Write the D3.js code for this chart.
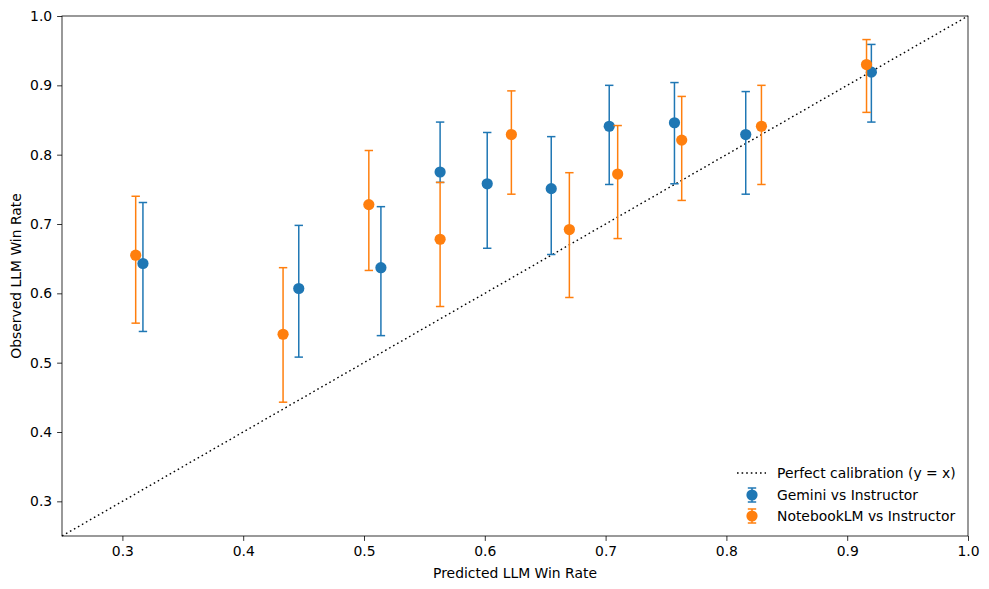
<!DOCTYPE html>
<html>
<head>
<meta charset="utf-8">
<script src="https://cdn.jsdelivr.net/npm/d3@7"></script>
<style>
  body { margin: 0; background: #fff; }
  svg text { font-family: "DejaVu Sans", sans-serif; }
</style>
</head>
<body>
<div id="chart"></div>
<script>
// Gemini vs Instructor: predicted win rate, observed win rate, CI low / high
const predGemini = [0.317, 0.446, 0.514, 0.563, 0.602, 0.655, 0.703, 0.757, 0.816, 0.920];
const obsGemini  = [0.643, 0.607, 0.637, 0.775, 0.758, 0.751, 0.841, 0.846, 0.829, 0.919];
const loGemini   = [0.545, 0.508, 0.539, 0.760, 0.665, 0.656, 0.757, 0.758, 0.743, 0.847];
const hiGemini   = [0.731, 0.698, 0.725, 0.847, 0.832, 0.826, 0.900, 0.904, 0.891, 0.959];

// NotebookLM vs Instructor
const predNotebook = [0.311, 0.433, 0.504, 0.563, 0.622, 0.670, 0.710, 0.763, 0.829, 0.916];
const obsNotebook  = [0.655, 0.541, 0.728, 0.678, 0.829, 0.692, 0.772, 0.821, 0.841, 0.930];
const loNotebook   = [0.557, 0.443, 0.633, 0.581, 0.743, 0.594, 0.679, 0.734, 0.757, 0.861];
const hiNotebook   = [0.740, 0.637, 0.806, 0.760, 0.892, 0.774, 0.842, 0.884, 0.900, 0.966];

const tickValues = [0.3, 0.4, 0.5, 0.6, 0.7, 0.8, 0.9, 1.0];
const axisDomain = [0.25, 1.0];

const seriesNames = ["Gemini vs Instructor", "NotebookLM vs Instructor"];
const diagLabel = "Perfect calibration (y = x)";

function test_chart() {
    const W = 989, H = 589;
    const margin = { top: 16, right: 21, bottom: 53, left: 62 };
    const width = W - margin.left - margin.right;
    const height = H - margin.top - margin.bottom;

    const svg = d3.select("#chart").append("svg")
        .attr("width", W)
        .attr("height", H);

    const g = svg.append("g")
        .attr("transform", "translate(" + margin.left + "," + margin.top + ")");

    const x = d3.scaleLinear().domain(axisDomain).range([0, width]);
    const y = d3.scaleLinear().domain(axisDomain).range([height, 0]);

    // diagonal y = x
    g.append("line")
        .attr("x1", x(axisDomain[0])).attr("y1", y(axisDomain[0]))
        .attr("x2", x(axisDomain[1])).attr("y2", y(axisDomain[1]))
        .attr("stroke", "#000")
        .attr("stroke-width", 1.4)
        .attr("stroke-dasharray", "1.6,3.0");

    const series = [
        { name: seriesNames[0], color: "#1f77b4", px: predGemini, py: obsGemini, lo: loGemini, hi: hiGemini },
        { name: seriesNames[1], color: "#ff7f0e", px: predNotebook, py: obsNotebook, lo: loNotebook, hi: hiNotebook }
    ];

    const cap = 4.2;
    series.forEach(s => {
        const pts = s.px.map((v, i) => ({ x: v, y: s.py[i], lo: s.lo[i], hi: s.hi[i] }));
        const sg = g.append("g");
        sg.selectAll("line.bar").data(pts).enter().append("line")
            .attr("x1", d => x(d.x)).attr("x2", d => x(d.x))
            .attr("y1", d => y(d.lo)).attr("y2", d => y(d.hi))
            .attr("stroke", s.color).attr("stroke-width", 1.5);
        sg.selectAll("line.caplo").data(pts).enter().append("line")
            .attr("x1", d => x(d.x) - cap).attr("x2", d => x(d.x) + cap)
            .attr("y1", d => y(d.lo)).attr("y2", d => y(d.lo))
            .attr("stroke", s.color).attr("stroke-width", 1.5);
        sg.selectAll("line.caphi").data(pts).enter().append("line")
            .attr("x1", d => x(d.x) - cap).attr("x2", d => x(d.x) + cap)
            .attr("y1", d => y(d.hi)).attr("y2", d => y(d.hi))
            .attr("stroke", s.color).attr("stroke-width", 1.5);
        sg.selectAll("circle").data(pts).enter().append("circle")
            .attr("cx", d => x(d.x)).attr("cy", d => y(d.y))
            .attr("r", 5.6)
            .attr("fill", s.color);
    });

    // axes
    const xAxis = g.append("g")
        .attr("transform", "translate(0," + height + ")")
        .call(d3.axisBottom(x).tickValues(tickValues).tickFormat(d3.format(".1f"))
            .tickSize(4.9).tickPadding(4.9).tickSizeOuter(0));
    const yAxis = g.append("g")
        .call(d3.axisLeft(y).tickValues(tickValues).tickFormat(d3.format(".1f"))
            .tickSize(4.9).tickPadding(4.9).tickSizeOuter(0));
    [xAxis, yAxis].forEach(a => {
        a.select(".domain").remove();
        a.selectAll(".tick line").attr("stroke", "#000").attr("stroke-width", 0.8);
        a.selectAll(".tick text").attr("font-size", "13.9px").attr("fill", "#000")
            .attr("font-family", "DejaVu Sans, sans-serif");
    });

    // frame
    g.append("rect")
        .attr("width", width).attr("height", height)
        .attr("fill", "none").attr("stroke", "#000").attr("stroke-width", 0.8);

    // axis labels
    svg.append("text")
        .attr("x", margin.left + width / 2).attr("y", 578)
        .attr("text-anchor", "middle").attr("font-size", "13.9px")
        .text("Predicted LLM Win Rate");
    svg.append("text")
        .attr("transform", "translate(21," + (margin.top + height / 2) + ") rotate(-90)")
        .attr("text-anchor", "middle").attr("font-size", "13.9px")
        .text("Observed LLM Win Rate");

    // legend
    const lg = svg.append("g").attr("transform", "translate(737,473)");
    lg.append("line").attr("x1", 0).attr("x2", 29).attr("y1", 0).attr("y2", 0)
        .attr("stroke", "#000").attr("stroke-width", 1.4).attr("stroke-dasharray", "1.6,3.0");
    lg.append("text").attr("x", 40).attr("y", 5).attr("font-size", "13.9px").text(diagLabel);
    series.forEach((s, i) => {
        const row = lg.append("g").attr("transform", "translate(0," + (22 + i * 21) + ")");
        row.append("line").attr("x1", 15).attr("x2", 15).attr("y1", -7).attr("y2", 7)
            .attr("stroke", s.color).attr("stroke-width", 1.5);
        [-7, 7].forEach(v => row.append("line")
            .attr("x1", 15 - cap).attr("x2", 15 + cap).attr("y1", v).attr("y2", v)
            .attr("stroke", s.color).attr("stroke-width", 1.5));
        row.append("circle").attr("cx", 15).attr("cy", 0).attr("r", 5.6).attr("fill", s.color);
        row.append("text").attr("x", 40).attr("y", 5).attr("font-size", "13.9px").text(s.name);
    });
}

test_chart();
</script>
</body>
</html>
